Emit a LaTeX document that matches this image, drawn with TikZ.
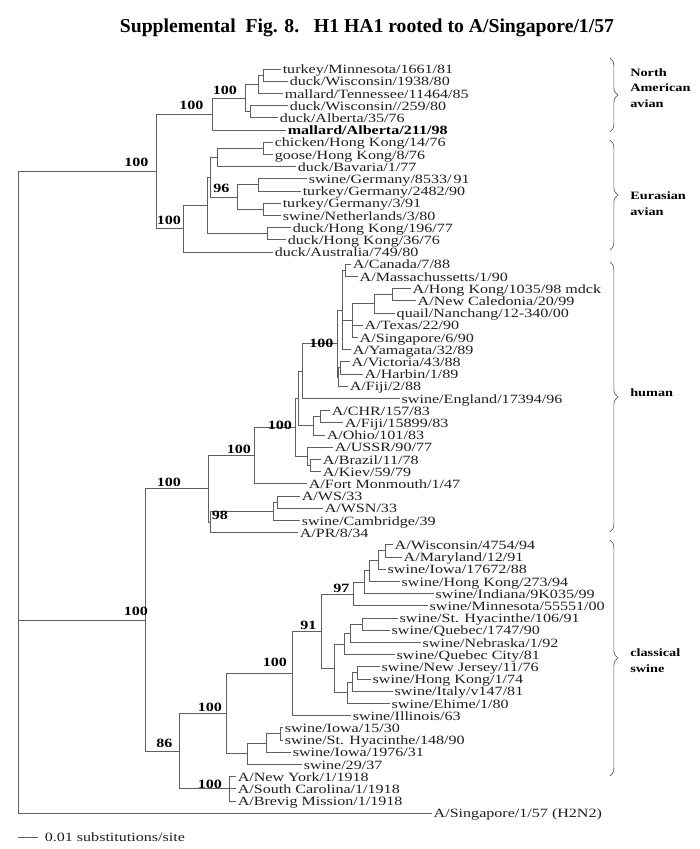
\documentclass[tikz,border=0pt]{standalone}
\usepackage{fontspec}
\setmainfont{Liberation Serif}[FakeStretch = 1.27]
\newfontfamily\titlefont{Liberation Serif}
\usetikzlibrary{decorations.pathreplacing}
\definecolor{treegray}{RGB}{95,95,95}
\definecolor{labelgray}{RGB}{30,30,30}

\begin{document}
\begin{tikzpicture} [x = 0.025cm, y = -0.305cm, line width = 0.6pt,
  font = \fontsize{9}{10}\selectfont,
  every edge/.style = {draw = treegray, to path = {|- (\tikztotarget)}},
  leaf/.style = {anchor = west, inner sep = 0pt, inner xsep = 1pt, text height = 0.66em, text depth = 0pt, text = labelgray},
  boot/.style = {inner sep = 0pt, font = \fontsize{9}{10}\selectfont\bfseries},
  group/.style = {anchor = west, align = left, inner sep = 0pt, font = \fontsize{8}{11}\selectfont\bfseries},
  brace/.style = {draw = treegray, line width = 0.5pt, decorate, decoration = {brace, amplitude = 0.2cm}}]

\useasboundingbox (0, -4.656) rectangle (700, 64.934);

\node (title) at (367, -2.36) {\titlefont\fontsize{14}{16}\selectfont\bfseries Supplemental\ \ Fig. 8.\ \ \ H1 HA1 rooted to A/Singapore/1/57};

\node [leaf] (t1) at (281, 1) {turkey/Minnesota/1661/81};
\node [leaf] (t2) at (288, 2) {duck/Wisconsin/1938/80};
\node [leaf] (t3) at (283, 3) {mallard/Tennessee/11464/85};
\node [leaf] (t4) at (288, 4) {duck/Wisconsin//259/80};
\node [leaf] (t5) at (278, 5) {duck/Alberta/35/76};
\node [leaf, text = black] (t6) at (286, 6) {\bfseries mallard/Alberta/211/98};
\node [leaf] (t7) at (273, 7) {chicken/Hong Kong/14/76};
\node [leaf] (t8) at (273, 8) {goose/Hong Kong/8/76};
\node [leaf] (t9) at (296, 9) {duck/Bavaria/1/77};
\node [leaf] (t10) at (307, 10) {swine/Germany/8533/\,91};
\node [leaf] (t11) at (301, 11) {turkey/Germany/2482/90};
\node [leaf] (t12) at (281, 12) {turkey/Germany/3/91};
\node [leaf] (t13) at (281, 13) {swine/Netherlands/3/80};
\node [leaf] (t14) at (291, 14) {duck/Hong Kong/196/77};
\node [leaf] (t15) at (286, 15) {duck/Hong Kong/36/76};
\node [leaf] (t16) at (273, 16) {duck/Australia/749/80};
\node [leaf] (t17) at (351, 17) {A/Canada/7/88};
\node [leaf] (t18) at (358, 18) {A/Massachussetts/1/90};
\node [leaf] (t19) at (411, 19) {A/Hong Kong/1035/98 mdck};
\node [leaf] (t20) at (416, 20) {A/New Caledonia/20/99};
\node [leaf] (t21) at (395, 21) {quail/Nanchang/12-340/00};
\node [leaf] (t22) at (363, 22) {A/Texas/22/90};
\node [leaf] (t23) at (358, 23) {A/Singapore/6/90};
\node [leaf] (t24) at (351, 24) {A/Yamagata/32/89};
\node [leaf] (t25) at (350, 25) {A/Victoria/43/88};
\node [leaf] (t26) at (363, 26) {A/Harbin/1/89};
\node [leaf] (t27) at (348, 27) {A/Fiji/2/88};
\node [leaf] (t28) at (400, 28) {swine/England/17394/96};
\node [leaf] (t29) at (330, 29) {A/CHR/157/83};
\node [leaf] (t30) at (343, 30) {A/Fiji/15899/83};
\node [leaf] (t31) at (325, 31) {A/Ohio/101/83};
\node [leaf] (t32) at (333, 32) {A/USSR/90/77};
\node [leaf] (t33) at (321, 33) {A/Brazil/11/78};
\node [leaf] (t34) at (321, 34) {A/Kiev/59/79};
\node [leaf] (t35) at (307, 35) {A/Fort Monmouth/1/47};
\node [leaf] (t36) at (300, 36) {A/WS/33};
\node [leaf] (t37) at (323, 37) {A/WSN/33};
\node [leaf] (t38) at (300, 38) {swine/Cambridge/39};
\node [leaf] (t39) at (298, 39) {A/PR/8/34};
\node [leaf] (t40) at (393, 40) {A/Wisconsin/4754/94};
\node [leaf] (t41) at (402, 41) {A/Maryland/12/91};
\node [leaf] (t42) at (386, 42) {swine/Iowa/17672/88};
\node [leaf] (t43) at (400, 43) {swine/Hong Kong/273/94};
\node [leaf] (t44) at (434, 44) {swine/Indiana/9K035/99};
\node [leaf] (t45) at (428, 45) {swine/Minnesota/55551/00};
\node [leaf] (t46) at (398, 46) {swine/St. Hyacinthe/106/91};
\node [leaf] (t47) at (390, 47) {swine/Quebec/1747/90};
\node [leaf] (t48) at (421, 48) {swine/Nebraska/1/92};
\node [leaf] (t49) at (395, 49) {swine/Quebec City/81};
\node [leaf] (t50) at (380, 50) {swine/New Jersey/11/76};
\node [leaf] (t51) at (371, 51) {swine/Hong Kong/1/74};
\node [leaf] (t52) at (393, 52) {swine/Italy/v147/81};
\node [leaf] (t53) at (390, 53) {swine/Ehime/1/80};
\node [leaf] (t54) at (351, 54) {swine/Illinois/63};
\node [leaf] (t55) at (283, 55) {swine/Iowa/15/30};
\node [leaf] (t56) at (283, 56) {swine/St. Hyacinthe/148/90};
\node [leaf] (t57) at (291, 57) {swine/Iowa/1976/31};
\node [leaf] (t58) at (302, 58) {swine/29/37};
\node [leaf] (t59) at (236, 59) {A/New York/1/1918};
\node [leaf] (t60) at (236, 60) {A/South Carolina/1/1918};
\node [leaf] (t61) at (236, 61) {A/Brevig Mission/1/1918};
\node [leaf] (t62) at (432, 62) {A/Singapore/1/57 (H2N2)};

\coordinate (n1) at (263, 1.5);
\coordinate (n2) at (258, 2.25);
\coordinate (n3) at (250, 4.5);
\coordinate (n4) at (245, 3.375);
\coordinate (na) at (212, 4.6875);
\coordinate (cg) at (263, 7.5);
\coordinate (cgb) at (217, 8.25);
\coordinate (sg) at (258, 10.5);
\coordinate (tn) at (263, 12.5);
\coordinate (g96) at (237, 11.5);
\coordinate (e2) at (210, 9.875);
\coordinate (dhk) at (267, 14.5);
\coordinate (e1) at (207, 12.1875);
\coordinate (eu) at (183, 14.09);
\coordinate (av) at (156, 9.39);
\coordinate (cm) at (345, 17.5);
\coordinate (hn) at (393, 19.5);
\coordinate (hnq) at (375, 20.25);
\coordinate (h6) at (353, 21.625);
\coordinate (h5) at (342, 20.75);
\coordinate (vh) at (340, 25.5);
\coordinate (vhf) at (338, 26.25);
\coordinate (h4) at (337, 23.5);
\coordinate (h3a) at (302, 25.75);
\coordinate (cf) at (320, 29.5);
\coordinate (cfo) at (313, 30.25);
\coordinate (h3) at (298, 28);
\coordinate (bk) at (310, 33.5);
\coordinate (u) at (307, 32.75);
\coordinate (h2) at (295, 30.375);
\coordinate (h1) at (254, 32.69);
\coordinate (ws) at (277, 36.5);
\coordinate (wsc) at (273, 37.25);
\coordinate (h98) at (210, 38.125);
\coordinate (h0) at (208, 35.41);
\coordinate (wm) at (386, 40.5);
\coordinate (wmi) at (379, 41.25);
\coordinate (wmih) at (370, 42.125);
\coordinate (wmihi) at (365, 43.06);
\coordinate (s97) at (354, 44.03);
\coordinate (sq) at (363, 46.5);
\coordinate (sqn) at (350, 47.25);
\coordinate (sqnq) at (344, 48.125);
\coordinate (nh) at (358, 50.5);
\coordinate (nhi) at (353, 51.25);
\coordinate (nhie) at (347, 52.125);
\coordinate (s4) at (334, 50.125);
\coordinate (s91) at (321, 47.08);
\coordinate (s100) at (292, 50.54);
\coordinate (iow) at (280, 55.5);
\coordinate (iowi) at (266, 56.25);
\coordinate (iowis) at (247, 57.125);
\coordinate (s2) at (226, 53.83);
\coordinate (n1918) at (229, 60);
\coordinate (s1) at (179, 56.92);
\coordinate (s0) at (145, 46.16);
\coordinate (root) at (18, 35.7);

\path (n1) edge (t1.west) edge (t2.west);
\path (n2) edge (n1) edge (t3.west);
\path (n3) edge (t4.west) edge (t5.west);
\path (n4) edge (n2) edge (n3);
\path (na) edge (n4) edge (t6.west);
\path (cg) edge (t7.west) edge (t8.west);
\path (cgb) edge (cg) edge (t9.west);
\path (sg) edge (t10.west) edge (t11.west);
\path (tn) edge (t12.west) edge (t13.west);
\path (g96) edge (sg) edge (tn);
\path (e2) edge (cgb) edge (g96);
\path (dhk) edge (t14.west) edge (t15.west);
\path (e1) edge (e2) edge (dhk);
\path (eu) edge (e1) edge (t16.west);
\path (av) edge (na) edge (eu);

\path (cm) edge (t17.west) edge (t18.west);
\path (hn) edge (t19.west) edge (t20.west);
\path (hnq) edge (hn) edge (t21.west);
\path (h6) edge (hnq) edge (t22.west) edge (t23.west);
\path (h5) edge (cm) edge (h6) edge (t24.west);
\path (vh) edge (t25.west) edge (t26.west);
\path (vhf) edge (vh) edge (t27.west);
\path (h4) edge (h5) edge (vhf);
\path (h3a) edge (h4) edge (t28.west);
\path (cf) edge (t29.west) edge (t30.west);
\path (cfo) edge (cf) edge (t31.west);
\path (h3) edge (h3a) edge (cfo);
\path (bk) edge (t33.west) edge (t34.west);
\path (u) edge (t32.west) edge (bk);
\path (h2) edge (h3) edge (u);
\path (h1) edge (h2) edge (t35.west);
\path (ws) edge (t36.west) edge (t37.west);
\path (wsc) edge (ws) edge (t38.west);
\path (h98) edge (wsc) edge (t39.west);
\path (h0) edge (h1) edge (h98);

\path (wm) edge (t40.west) edge (t41.west);
\path (wmi) edge (wm) edge (t42.west);
\path (wmih) edge (wmi) edge (t43.west);
\path (wmihi) edge (wmih) edge (t44.west);
\path (s97) edge (wmihi) edge (t45.west);
\path (sq) edge (t46.west) edge (t47.west);
\path (sqn) edge (sq) edge (t48.west);
\path (sqnq) edge (sqn) edge (t49.west);
\path (nh) edge (t50.west) edge (t51.west);
\path (nhi) edge (nh) edge (t52.west);
\path (nhie) edge (nhi) edge (t53.west);
\path (s4) edge (sqnq) edge (nhie);
\path (s91) edge (s97) edge (s4);
\path (s100) edge (s91) edge (t54.west);
\path (iow) edge (t55.west) edge (t56.west);
\path (iowi) edge (iow) edge (t57.west);
\path (iowis) edge (iowi) edge (t58.west);
\path (s2) edge (s100) edge (iowis);
\path (n1918) edge (t59.west) edge (t60.west) edge (t61.west);
\path (s1) edge (s2) edge (n1918);
\path (s0) edge (h0) edge (s1);
\path (root) edge (av) edge (s0) edge (t62.west);

\node [boot] (bav) at (136.5, 8.62) {100};
\node [boot] (bna) at (191.5, 3.95) {100};
\node [boot] (bn4) at (225, 2.72) {100};
\node [boot] (beu) at (169, 13.38) {100};
\node [boot] (bg96) at (221.5, 10.75) {96};
\node [boot] (bh4) at (321.5, 23.46) {100};
\node [boot] (bh2) at (280, 30.18) {100};
\node [boot] (bh1) at (239, 32.14) {100};
\node [boot] (bh0) at (169, 34.85) {100};
\node [boot] (bh98) at (220, 37.56) {98};
\node [boot] (bs97) at (341.5, 43.54) {97};
\node [boot] (bs91) at (308.5, 46.57) {91};
\node [boot] (bs100) at (275, 49.6) {100};
\node [boot] (bs2) at (210, 53.3) {100};
\node [boot] (bs1) at (164.5, 56.25) {86};
\node [boot] (b1918) at (210, 59.6) {100};
\node [boot] (bs0) at (136, 45.43) {100};

\coordinate (naT) at (610, 0.1);
\coordinate (naB) at (610, 6.16);
\coordinate (euT) at (610, 6.82);
\coordinate (euB) at (610, 15.84);
\coordinate (huT) at (610, 16.82);
\coordinate (huB) at (610, 38.95);
\coordinate (swT) at (610, 39.6);
\coordinate (swB) at (610, 58.95);
\draw [brace] (naT) -- (naB);
\draw [brace] (euT) -- (euB);
\draw [brace] (huT) -- (huB);
\draw [brace] (swT) -- (swB);
\node [group] (gna) at (630, 2.56) {North\\American\\avian};
\node [group] (geu) at (630, 12.02) {Eurasian\\avian};
\node [group] (ghu) at (630, 27.56) {human};
\node [group] (gsw) at (630, 49.5) {classical\\swine};

\coordinate (sb1) at (18, 63.95);
\coordinate (sb2) at (38, 63.95);
\draw [treegray] (sb1) -- (sb2);
\node [leaf] (sbl) at (43, 63.95) {0.01 substitutions/site};

\end{tikzpicture}
\end{document}
